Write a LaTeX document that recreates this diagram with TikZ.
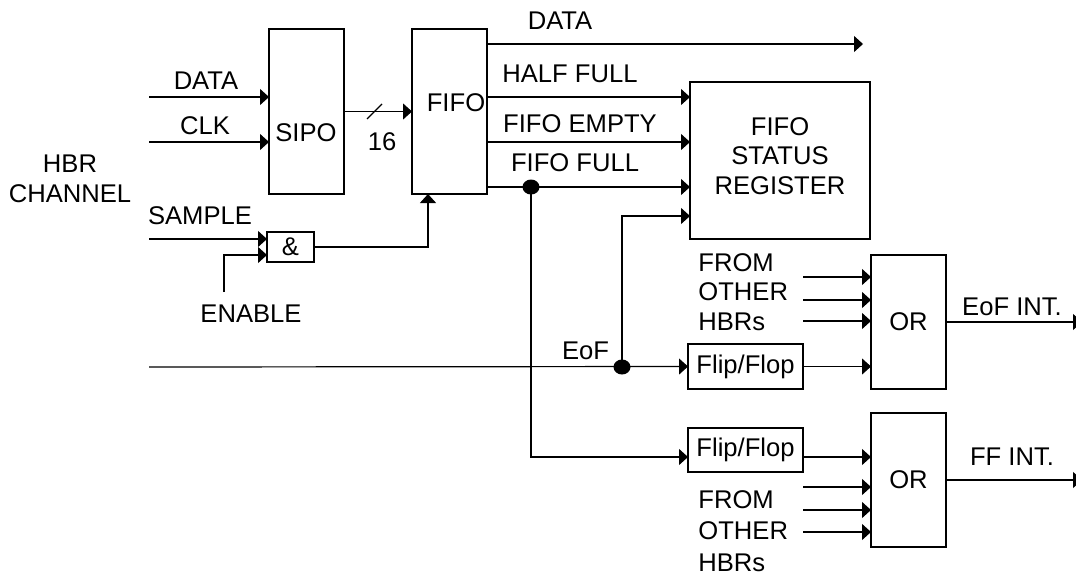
\documentclass[tikz,border=0pt]{standalone}
\usepackage{fontspec}
\setmainfont{Liberation Sans}
\usetikzlibrary{arrows.meta}

\begin{document}
\begin{tikzpicture}[
    x=0.5pt, y=-0.5pt,
    font=\fontsize{12.8}{14.75}\selectfont,
    blk/.style={rectangle, draw, line width=0.6pt, inner sep=0pt, outer sep=0pt, align=center},
    sig/.style={-{Triangle[length=4.5pt, width=8pt]}, line width=0.6pt},
    wire/.style={line width=0.6pt},
    lbl/.style={inner sep=0pt, align=center},
    hbrs/.style={inner sep=0pt, align=left, anchor=west}
]
\useasboundingbox (0,0) rectangle (1076,573);

% Blocks
\node[blk, minimum width=37.5pt, minimum height=82.5pt] (sipo) at (306.5,111.5) {};
\node[blk, minimum width=37.5pt, minimum height=82.5pt] (fifo) at (449.5,111.5) {};
\node[blk, minimum width=23.5pt, minimum height=15pt] (and) at (290.5,247) {\&};
\node[blk, minimum width=90pt, minimum height=78.5pt] (reg) at (780,160.5) {};
\node[blk, minimum width=57.5pt, minimum height=22.5pt] (ff1) at (745.5,366.5) {Flip/Flop};
\node[blk, minimum width=57.5pt, minimum height=22pt] (ff2) at (745.5,450) {Flip/Flop};
\node[blk, minimum width=37.5pt, minimum height=67pt] (or1) at (908.5,322) {OR};
\node[blk, minimum width=37.5pt, minimum height=67pt] (or2) at (908.5,480) {OR};
\node[lbl] (sipoT) at (306,133) {SIPO};
\node[lbl] (fifoT) at (456,103) {FIFO};
\node[lbl] (regT) at (780,156) {FIFO\\STATUS\\REGISTER};

% Free ends and taps
\coordinate (dataIn) at (149,97);
\coordinate (clkIn) at (149,142);
\coordinate (smpIn) at (149,239);
\coordinate (enIn) at (224,292);
\coordinate (eofIn) at (149,367);
\coordinate (dataOut) at (863,44);
\coordinate (eofOut) at (1082,322);
\coordinate (ffOut) at (1082,480);
\coordinate (ffTap) at (531,187);
\coordinate (eofTap) at (622,367);

% Inputs
\draw[sig] (dataIn) -- (sipo.west |- dataIn);
\draw[sig] (clkIn) -- (sipo.west |- clkIn);
\draw[sig] (sipo.east) -- (fifo.west);
\draw[wire] (367,119) -- (382,104);
\draw[sig] (smpIn) -- ([yshift=4pt]and.west);
\draw[sig] (enIn) |- ([yshift=-4pt]and.west);
\draw[sig] (and.east) -| ([xshift=8pt]fifo.south west);

% FIFO outputs
\draw[sig] (fifo.east |- dataOut) -- (dataOut);
\draw[sig] (fifo.east |- 0,97) -- (reg.west |- 0,97);
\draw[sig] (fifo.east |- 0,142) -- (reg.west |- 0,142);
\draw[sig] (fifo.east |- ffTap) -- (reg.west |- ffTap);
\draw[sig] (ffTap) |- (ff2.west |- 0,457);
\fill (ffTap) circle [x radius=4.25pt, y radius=3.75pt];

% EoF path
\draw[sig] (eofIn) -- (ff1.west);
\draw[sig] (eofTap) |- (reg.west |- 0,216);
\fill (eofTap) circle [x radius=4.25pt, y radius=3.75pt];
\draw[sig] (ff1.east) -- (or1.west |- ff1.east);
\foreach \y in {277,300,321}
    \draw[sig] (ff1.east |- 0,\y) -- (or1.west |- 0,\y);
\draw[sig] (or1.east) -- (eofOut);

% FF path
\draw[sig] (ff2.east |- 0,457) -- (or2.west |- 0,457);
\foreach \y in {487,510,532}
    \draw[sig] (ff2.east |- 0,\y) -- (or2.west |- 0,\y);
\draw[sig] (or2.east) -- (ffOut);

% Labels
\node[lbl] (hbr) at (70,179) {HBR\\CHANNEL};
\node[lbl] (dataL) at (206,81) {DATA};
\node[lbl] (clkL) at (205,125.5) {CLK};
\node[lbl] (smpL) at (200,216) {SAMPLE};
\node[lbl] (enL) at (251,313.5) {ENABLE};
\node[lbl] (busL) at (382,142) {16};
\node[lbl] (dataOutL) at (560,21) {DATA};
\node[lbl] (halfL) at (570,74) {HALF FULL};
\node[lbl] (emptyL) at (580,124) {FIFO EMPTY};
\node[lbl] (fullL) at (575,163) {FIFO FULL};
\node[lbl] (eofL) at (585.5,351) {EoF};
\node[hbrs] (hbrs1) at (698,292) {FROM\\OTHER\\HBRs};
\node[hbrs] (hbrs2) at (698,531) {FROM\\[1pt]OTHER\\[1pt]HBRs};
\node[lbl] (eofOutL) at (1012,306.5) {EoF INT.};
\node[lbl] (ffOutL) at (1012,456.5) {FF INT.};
\end{tikzpicture}
\end{document}
